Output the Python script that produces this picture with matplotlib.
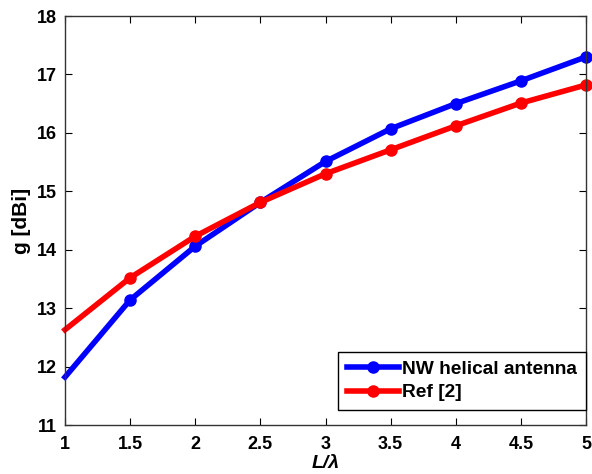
import matplotlib.pyplot as plt

# values
ratio = [1, 1.5, 2, 2.5, 3, 3.5, 4, 4.5, 5]
gain_nw = [11.82, 13.14, 14.06, 14.81, 15.51, 16.07, 16.5, 16.89, 17.3]
gain_ref = [12.63, 13.52, 14.23, 14.81, 15.3, 15.71, 16.12, 16.51, 16.82]

plt.rcParams['font.family'] = ['Liberation Sans', 'DejaVu Sans']
plt.rcParams['font.weight'] = 'bold'

fig = plt.figure(figsize=(5.92, 4.74), dpi=100)
ax = fig.add_axes([65 / 592, 1 - 425 / 474, 521 / 592, 409 / 474])

ax.plot(ratio, gain_nw, color='#0000ff', lw=4, marker='o', ms=8,
        markevery=list(range(1, 9)), clip_on=False, label='NW helical antenna')
ax.plot(ratio, gain_ref, color='#ff0000', lw=4, marker='o', ms=8,
        markevery=list(range(1, 9)), clip_on=False, label='Ref [2]')

ax.set_xlim(1, 5)
ax.set_ylim(11, 18)
ax.set_xticks(ratio)
ax.set_xticklabels(['1', '1.5', '2', '2.5', '3', '3.5', '4', '4.5', '5'])
ax.tick_params(direction='in', labelsize=13, length=5, top=True, right=True, pad=6)
ax.tick_params(axis='x', pad=8)
for s in ax.spines.values():
    s.set_linewidth(1.0)
    s.set_color('#333333')

ax.set_xlabel('L/λ', fontsize=14, style='italic', fontweight='bold', labelpad=1.5)
ax.set_ylabel('g [dBi]', fontsize=15, fontweight='bold', labelpad=4)

leg = ax.legend(loc='lower right', bbox_to_anchor=(1.0, 0.037),
                prop={'size': 13.8, 'weight': 'bold'},
                fancybox=False, framealpha=1, edgecolor='black',
                borderpad=0.45, handlelength=2.7, handletextpad=0.2,
                labelspacing=0.3, borderaxespad=0)
leg.get_frame().set_linewidth(1.0)

fig.savefig('out.png', dpi=100)
